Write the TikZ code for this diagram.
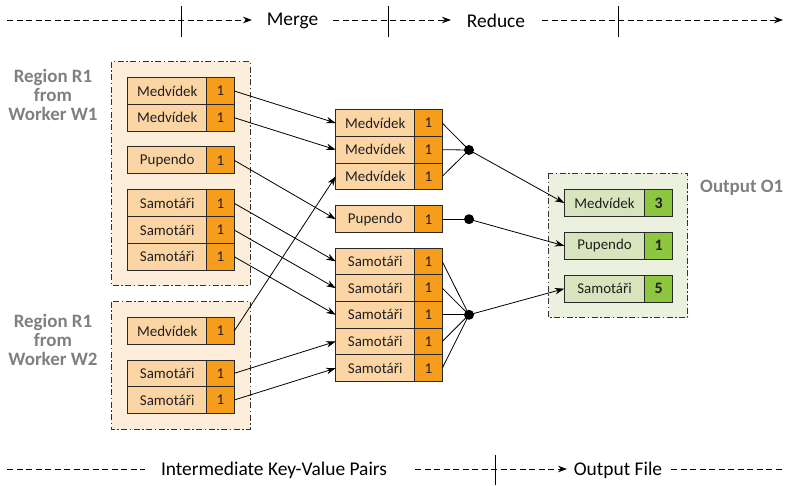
\documentclass[tikz,border=0pt]{standalone}
\usepackage{fontspec}
\setmainfont{Carlito}
\usetikzlibrary{arrows.meta}
\definecolor{keyor}{RGB}{252,213,165}
\definecolor{valor}{RGB}{246,158,28}
\definecolor{keygr}{RGB}{215,228,189}
\definecolor{valgr}{RGB}{141,198,63}
\definecolor{regor}{RGB}{253,237,219}
\definecolor{reggr}{RGB}{235,241,222}
\definecolor{lblgray}{RGB}{128,128,128}
\definecolor{bord}{RGB}{40,40,40}
\newcommand{\kvpair}[6]{%
  \node[#6key, anchor=west] (#1) at (#2,#3) {#4};
  \node[#6val, anchor=west] (#1v) at (#1.east) {#5};}
\tikzset{
  boxbase/.style={rectangle, draw=bord, line width=0.9bp, inner sep=0pt, outer sep=0pt,
     minimum height=26.7bp, font=\fontsize{15}{17}\selectfont, text=black!88},
  orkey/.style={boxbase, fill=keyor, minimum width=79bp},
  orval/.style={boxbase, fill=valor, minimum width=27.5bp},
  grkey/.style={boxbase, fill=keygr, minimum width=80.5bp},
  grval/.style={boxbase, fill=valgr, minimum width=27.5bp, font=\fontsize{16}{17}\selectfont\bfseries},
  region/.style={draw=black!80, line width=0.8bp, dash pattern=on 6bp off 2.5bp on 1.5bp off 2.5bp},
  lbl/.style={text=lblgray, font=\fontsize{19}{19}\selectfont\bfseries, align=center, inner sep=0pt},
  hdr/.style={text=black, font=\fontsize{19.5}{21}\selectfont, inner sep=0pt},
  tline/.style={line width=0.9bp, dash pattern=on 6bp off 3.5bp},
  tarrow/.style={tline, -{Stealth[length=9bp,width=6.5bp]}},
  tick/.style={line width=0.9bp},
  conn/.style={line width=0.8bp, -{Stealth[length=9.5bp,width=6.5bp]}},
  plain/.style={line width=0.8bp},
  joint/.style={circle, fill=black, inner sep=0pt, minimum size=10bp},
}
\begin{document}
\begin{tikzpicture}[x=1bp, y=-1bp]
\useasboundingbox (0,0) rectangle (785,486);
% regions
\draw[region, fill=regor] (111.5,61.7) rectangle (250,285.5);
\draw[region, fill=regor] (111.5,301.7) rectangle (250,429.5);
\draw[region, fill=reggr] (548.5,173.3) rectangle (687.7,317.7);
% labels
\node[lbl] (lw1) at (53,95) {Region R1\\from\\Worker W1};
\node[lbl] (lw2) at (53,340) {Region R1\\from\\Worker W2};
\node[lbl, anchor=west] (lo) at (700,188) {Output O1};
% left W1
\kvpair{a1}{127.7}{91}{Medvídek}{1}{or}
\kvpair{a2}{127.7}{117.7}{Medvídek}{1}{or}
\kvpair{a3}{127.7}{160.3}{Pupendo}{1}{or}
\kvpair{a4}{127.7}{203.3}{Samotáři}{1}{or}
\kvpair{a5}{127.7}{230}{Samotáři}{1}{or}
\kvpair{a6}{127.7}{256.7}{Samotáři}{1}{or}
% left W2
\kvpair{b1}{127.7}{331}{Medvídek}{1}{or}
\kvpair{b2}{127.7}{373.3}{Samotáři}{1}{or}
\kvpair{b3}{127.7}{400}{Samotáři}{1}{or}
% middle
\kvpair{m1}{335.7}{123}{Medvídek}{1}{or}
\kvpair{m2}{335.7}{149.7}{Medvídek}{1}{or}
\kvpair{m3}{335.7}{176.4}{Medvídek}{1}{or}
\kvpair{m4}{335.7}{219.2}{Pupendo}{1}{or}
\kvpair{m5}{335.7}{261.4}{Samotáři}{1}{or}
\kvpair{m6}{335.7}{288.1}{Samotáři}{1}{or}
\kvpair{m7}{335.7}{314.8}{Samotáři}{1}{or}
\kvpair{m8}{335.7}{341.5}{Samotáři}{1}{or}
\kvpair{m9}{335.7}{368.2}{Samotáři}{1}{or}
% output
\kvpair{o1}{564.3}{203}{Medvídek}{3}{gr}
\kvpair{o2}{564.3}{245.8}{Pupendo}{1}{gr}
\kvpair{o3}{564.3}{288.7}{Samotáři}{5}{gr}
% joints
\node[joint] (j1) at (469,150) {};
\node[joint] (j2) at (469,219.2) {};
\node[joint] (j3) at (469,314.8) {};
% merge connectors
\draw[conn] (a1v.east) -- (m1.west);
\draw[conn] (a2v.east) -- (m2.west);
\draw[conn] (a3v.east) -- (m4.west);
\draw[conn] (a4v.east) -- (m5.west);
\draw[conn] (a5v.east) -- (m6.west);
\draw[conn] (a6v.east) -- (m7.west);
\draw[conn] (b1v.east) -- (m3.west);
\draw[conn] (b2v.east) -- (m8.west);
\draw[conn] (b3v.east) -- (m9.west);
% reduce
\foreach \m in {m1v,m2v,m3v} \draw[plain] (\m.east) -- (j1.center);
\draw[plain] (m4v.east) -- (j2.center);
\foreach \m in {m5v,m6v,m7v,m8v,m9v} \draw[plain] (\m.east) -- (j3.center);
\draw[conn] (j1.center) -- (o1.west);
\draw[conn] (j2.center) -- (o2.west);
\draw[conn] (j3.center) -- (o3.west);
% top timeline
\node[hdr] (tmerge) at (292.5,21) {Merge};
\node[hdr] (treduce) at (496,21) {Reduce};
\coordinate (t0) at (7,20);
\coordinate (t1) at (252,20);
\coordinate (t2) at (333,20);
\coordinate (t3) at (451,20);
\coordinate (t4) at (542,20);
\coordinate (t5) at (783,20);
\draw[tarrow] (t0) -- (t1);
\draw[tarrow] (t2) -- (t3);
\draw[tarrow] (t4) -- (t5);
\coordinate (k1a) at (181,6); \coordinate (k1b) at (181,37);
\coordinate (k2a) at (388,6); \coordinate (k2b) at (388,37);
\coordinate (k3a) at (618,6); \coordinate (k3b) at (618,37);
\draw[tick] (k1a) -- (k1b);
\draw[tick] (k2a) -- (k2b);
\draw[tick] (k3a) -- (k3b);
% bottom timeline
\node[hdr] (tinter) at (274,470) {Intermediate Key-Value Pairs};
\node[hdr] (tout) at (618,470) {Output File};
\coordinate (u0) at (7,469);
\coordinate (u1) at (145,469);
\coordinate (u2) at (415,469);
\coordinate (u3) at (567,469);
\coordinate (u4) at (671,469);
\coordinate (u5) at (785,469);
\draw[tline] (u0) -- (u1);
\draw[tarrow] (u2) -- (u3);
\draw[tline] (u4) -- (u5);
\coordinate (k4a) at (495,455); \coordinate (k4b) at (495,485);
\draw[tick] (k4a) -- (k4b);
\end{tikzpicture}
\end{document}
